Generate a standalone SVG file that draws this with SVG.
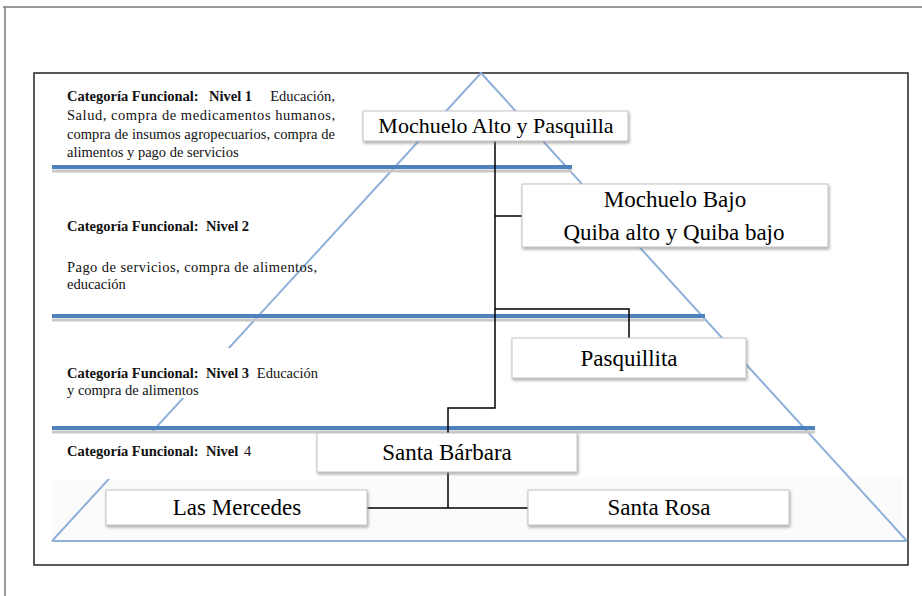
<svg xmlns="http://www.w3.org/2000/svg" width="922" height="596" viewBox="0 0 922 596">
<defs>
<filter id="sh" x="-10%" y="-20%" width="120%" height="150%">
<feDropShadow dx="1" dy="2" stdDeviation="1.5" flood-color="#777" flood-opacity="0.6"/>
</filter>
<style>
.lbl{font-family:"Liberation Serif","Times New Roman",serif;font-size:14.5px;fill:#111}
.b{font-weight:bold}
.box{fill:#fff;stroke:#c4c4c4;stroke-width:1;filter:url(#sh)}
.nt{font-family:"Liberation Serif","Times New Roman",serif;font-size:23px;text-anchor:middle;fill:#000}
.bar{stroke:#4f81bd;stroke-width:4}
.barsh{stroke:#c8c8c8;stroke-width:3}
.tri{stroke:#8eb0d9;stroke-width:2;fill:none}
.conn{stroke:#000;stroke-width:1.5;fill:none}
</style>
</defs>
<rect width="922" height="596" fill="#fff"/>
<!-- frames -->
<path d="M3 7H922M5 7V596" stroke="#777" stroke-width="1.5" fill="none"/>
<rect x="34" y="73" width="874" height="492" fill="none" stroke="#222" stroke-width="1.5"/>
<!-- pyramid -->
<g id="pyramid">
<rect x="52" y="478" width="850" height="62" fill="#fbfbfb"/>
<polyline class="tri" points="52,541 481,73 907,541"/>
<line class="tri" x1="52" y1="541" x2="907" y2="541"/>
<rect x="60" y="348" width="262" height="50" fill="#fff"/>
<rect x="52" y="431" width="265" height="48" fill="#fff"/>
<line class="barsh" x1="52" y1="171" x2="572" y2="171"/>
<line class="bar" x1="52" y1="167" x2="572" y2="167"/>
<line class="barsh" x1="52" y1="320" x2="705" y2="320"/>
<line class="bar" x1="52" y1="316" x2="705" y2="316"/>
<line class="barsh" x1="52" y1="432" x2="815" y2="432"/>
<line class="bar" x1="52" y1="428" x2="815" y2="428"/>
</g>
<!-- level labels -->
<g id="level1">
<text class="lbl b" x="67" y="101">Categoría Funcional:</text>
<text class="lbl b" x="209" y="101">Nivel 1</text>
<text class="lbl" x="335" y="101" text-anchor="end">Educación,</text>
<text class="lbl" x="67" y="120" textLength="268" lengthAdjust="spacing">Salud, compra de medicamentos humanos,</text>
<text class="lbl" x="67" y="139" textLength="268" lengthAdjust="spacing">compra de insumos agropecuarios, compra de</text>
<text class="lbl" x="67" y="157">alimentos y pago de servicios</text>
</g>
<g id="level2">
<text class="lbl b" x="67" y="231">Categoría Funcional:</text>
<text class="lbl b" x="206" y="231">Nivel 2</text>
<text class="lbl" x="67" y="272" textLength="250" lengthAdjust="spacing">Pago de servicios, compra de alimentos,</text>
<text class="lbl" x="67" y="289">educación</text>
</g>
<g id="level3">
<text class="lbl b" x="67" y="378">Categoría Funcional:</text>
<text class="lbl b" x="206" y="378">Nivel 3</text>
<text class="lbl" x="318" y="378" text-anchor="end">Educación</text>
<text class="lbl" x="67" y="395">y compra de alimentos</text>
</g>
<g id="level4">
<text class="lbl b" x="67" y="456">Categoría Funcional:</text>
<text class="lbl b" x="206" y="456">Nivel</text>
<text class="lbl" x="244" y="456">4</text>
</g>
<!-- connectors -->
<g id="connectors">
<path class="conn" d="M495 141V408H448V433"/>
<path class="conn" d="M495 216H522"/>
<path class="conn" d="M495 309H629V338"/>
<path class="conn" d="M448 472V508M367 508H528"/>
</g>
<!-- nodes -->
<g id="n-mochuelo-alto">
<rect class="box" x="363" y="111" width="265" height="30"/>
<text class="nt" x="496" y="133" style="font-size:22px">Mochuelo Alto y Pasquilla</text>
</g>
<g id="n-mochuelo-bajo">
<rect class="box" x="522" y="184" width="306" height="63"/>
<text class="nt" x="675" y="207">Mochuelo Bajo</text>
<text class="nt" x="674" y="240">Quiba alto y Quiba bajo</text>
</g>
<g id="n-pasquillita">
<rect class="box" x="512" y="338" width="234" height="40"/>
<text class="nt" x="629" y="366">Pasquillita</text>
</g>
<g id="n-santa-barbara">
<rect class="box" x="317" y="433" width="260" height="39"/>
<text class="nt" x="447" y="460">Santa Bárbara</text>
</g>
<g id="n-las-mercedes">
<rect class="box" x="106" y="490" width="261" height="35"/>
<text class="nt" x="237" y="515">Las Mercedes</text>
</g>
<g id="n-santa-rosa">
<rect class="box" x="528" y="490" width="261" height="35"/>
<text class="nt" x="659" y="515">Santa Rosa</text>
</g>
</svg>
